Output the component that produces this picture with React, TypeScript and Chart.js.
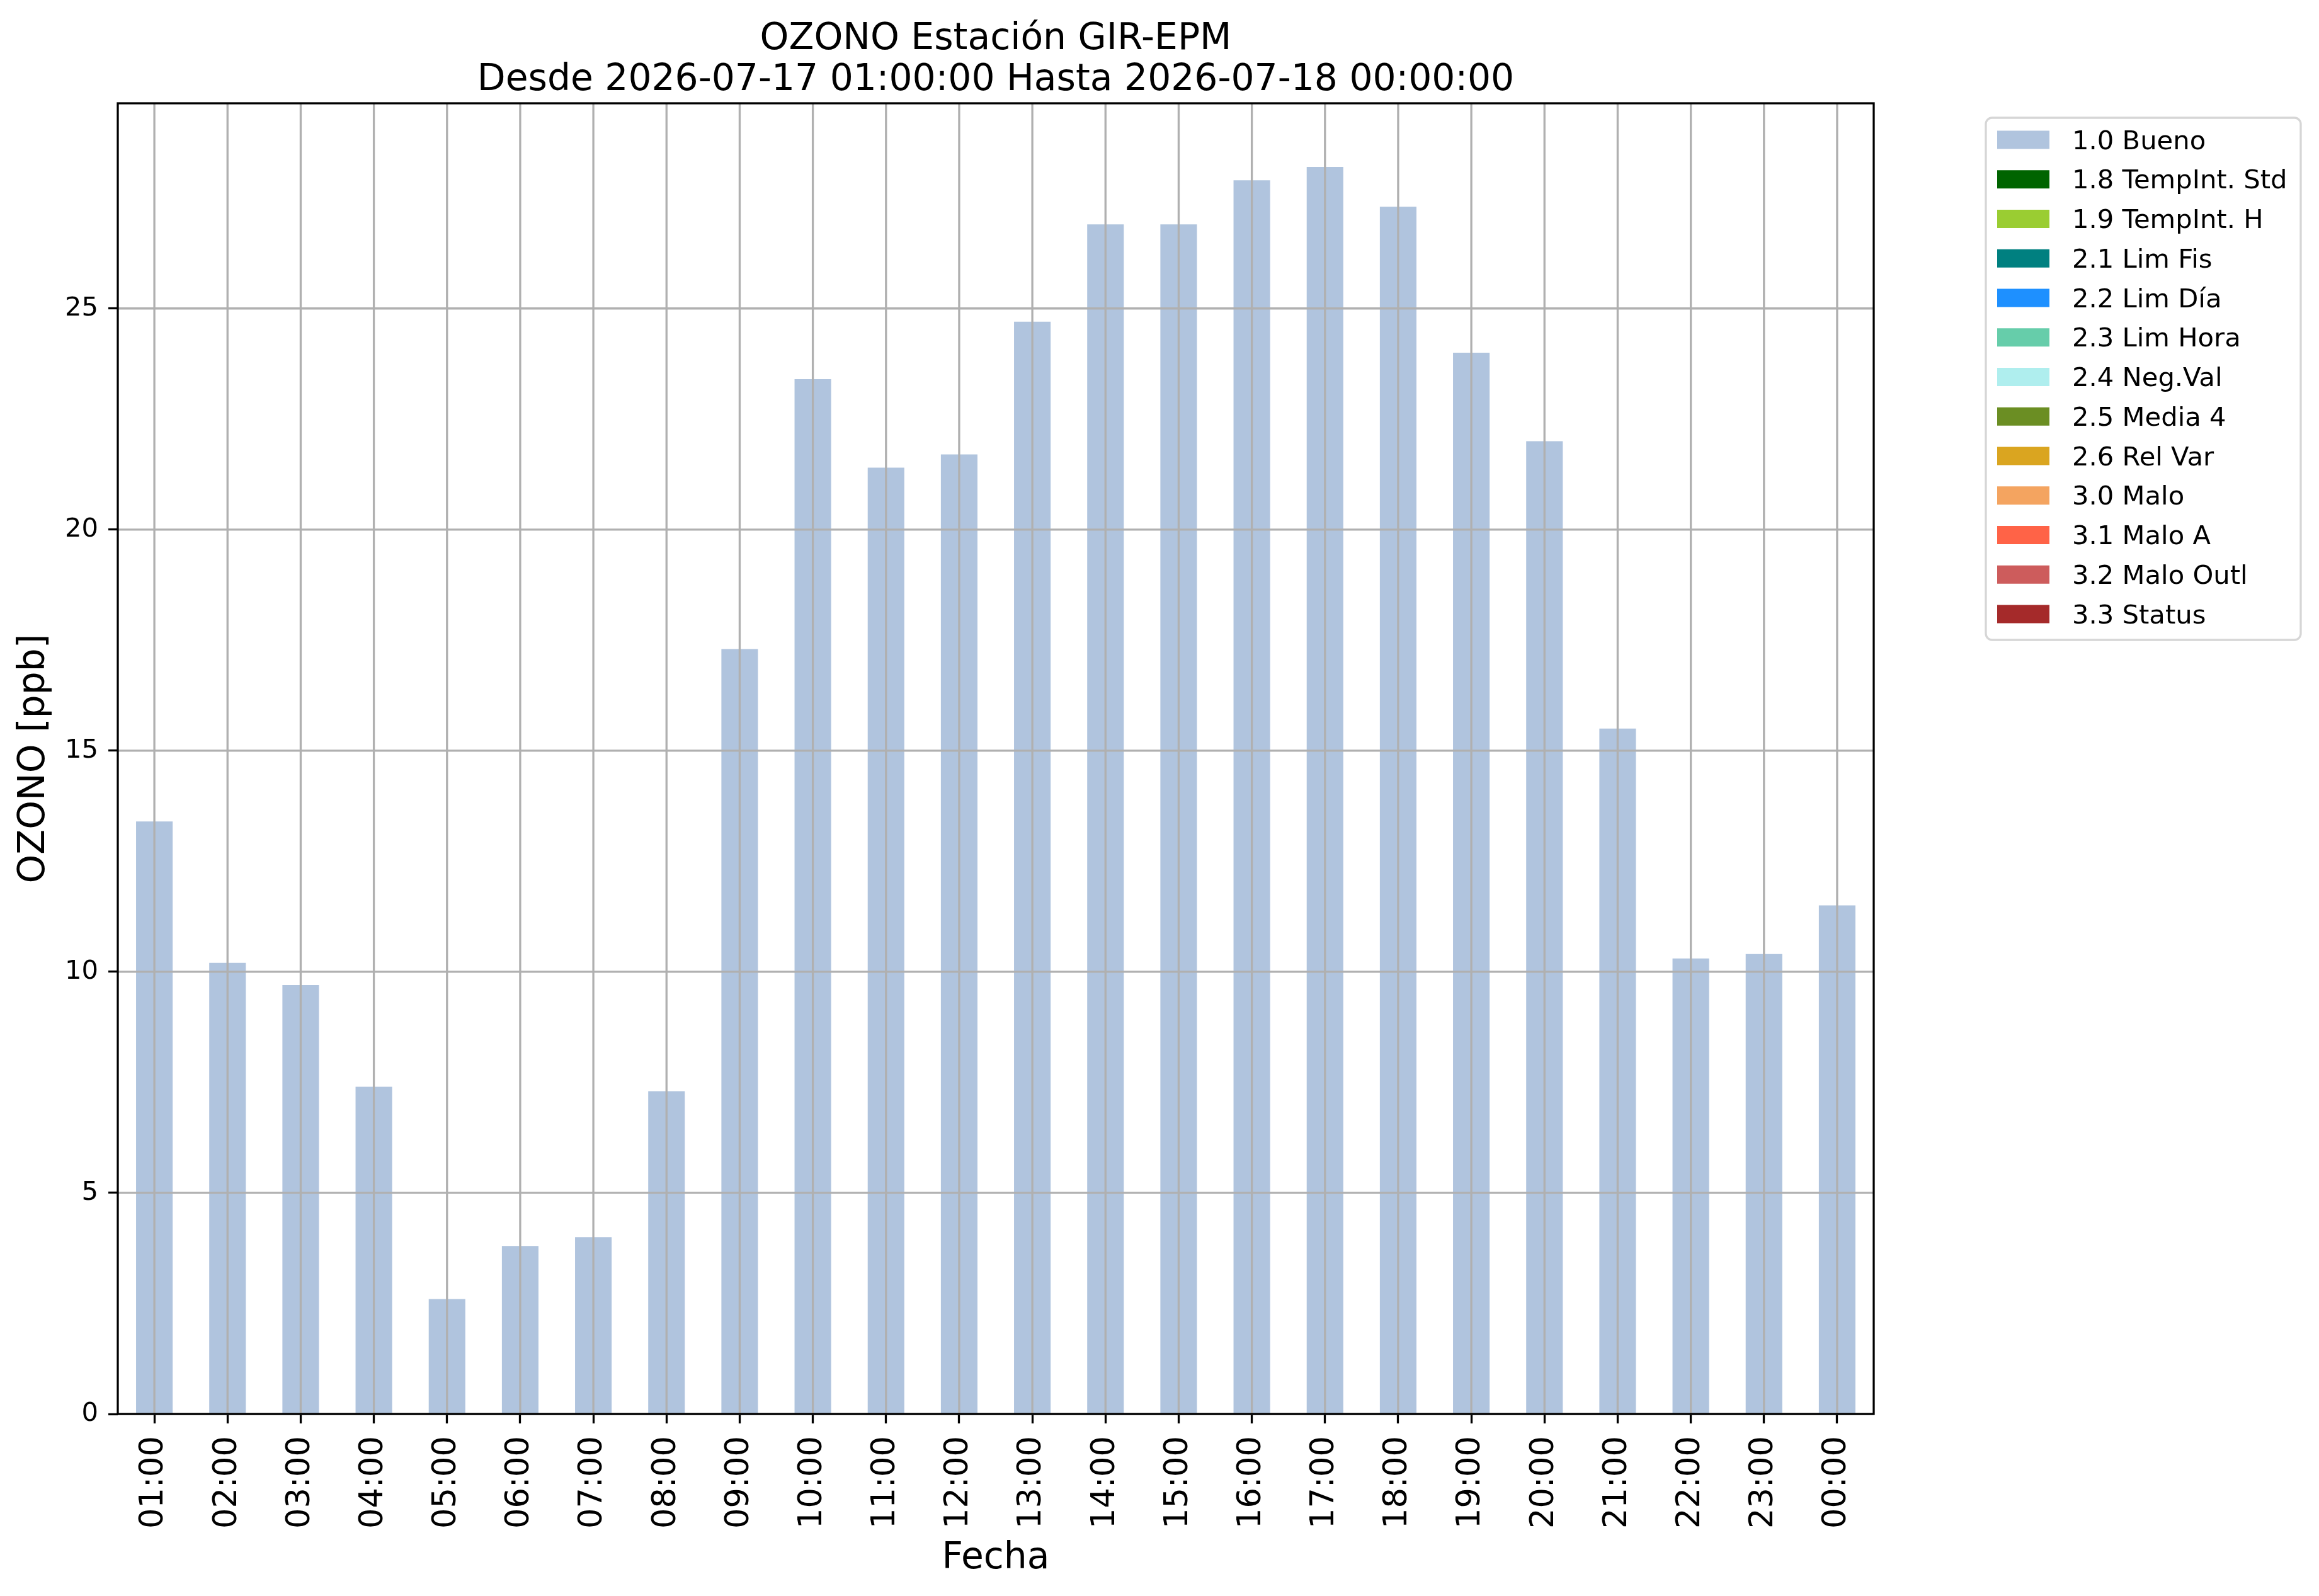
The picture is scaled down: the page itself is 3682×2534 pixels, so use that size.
import React, { useRef, useEffect } from "react";
import { Chart, registerables } from "chart.js";

Chart.register(...registerables);

const horas = [
  "01:00", "02:00", "03:00", "04:00", "05:00", "06:00", "07:00", "08:00",
  "09:00", "10:00", "11:00", "12:00", "13:00", "14:00", "15:00", "16:00",
  "17:00", "18:00", "19:00", "20:00", "21:00", "22:00", "23:00", "00:00",
];
const ozono = [
  13.4, 10.2, 9.7, 7.4, 2.6, 3.8, 4.0, 7.3, 17.3, 23.4, 21.4, 21.7,
  24.7, 26.9, 26.9, 27.9, 28.2, 27.3, 24.0, 22.0, 15.5, 10.3, 10.4, 11.5,
];
const etiquetas = [
  "1.0 Bueno", "1.8 TempInt. Std", "1.9 TempInt. H", "2.1 Lim Fis",
  "2.2 Lim Día", "2.3 Lim Hora", "2.4 Neg.Val", "2.5 Media 4",
  "2.6 Rel Var", "3.0 Malo", "3.1 Malo A", "3.2 Malo Outl", "3.3 Status",
];
const colores = [
  "lightsteelblue", "darkgreen", "yellowgreen", "teal", "dodgerblue",
  "mediumaquamarine", "paleturquoise", "olivedrab", "goldenrod",
  "sandybrown", "tomato", "indianred", "brown",
];
const yMax = 29.64;

const FONT = "DejaVu Sans";
const LW = 3.3;

// grid lines over the bars + the four spines, like matplotlib does
const gridArriba = {
  id: "gridArriba",
  afterDatasetsDraw(chart: any) {
    const { ctx, chartArea: a, scales } = chart;
    ctx.save();
    ctx.strokeStyle = "#b0b0b0";
    ctx.lineWidth = LW;
    ctx.beginPath();
    scales.x.ticks.forEach((_t: any, i: number) => {
      const x = scales.x.getPixelForTick(i);
      ctx.moveTo(x, a.top);
      ctx.lineTo(x, a.bottom);
    });
    scales.y.ticks.forEach((t: any) => {
      const y = scales.y.getPixelForValue(t.value);
      ctx.moveTo(a.left, y);
      ctx.lineTo(a.right, y);
    });
    ctx.stroke();
    ctx.strokeStyle = "#000";
    ctx.strokeRect(a.left, a.top, a.right - a.left, a.bottom - a.top);
    ctx.restore();
  },
};

const leyenda = {
  id: "leyenda",
  afterDraw(chart: any) {
    const { ctx, chartArea: a } = chart;
    const x0 = a.right + 178;
    const y0 = a.top + 23;
    const paso = 62.75;
    const n = chart.data.datasets.length;
    ctx.save();
    ctx.beginPath();
    ctx.roundRect(x0, y0, 500, 35 + (n - 1) * paso + 41, 10);
    ctx.fillStyle = "rgba(255,255,255,0.8)";
    ctx.fill();
    ctx.strokeStyle = "#d6d6d6";
    ctx.lineWidth = LW;
    ctx.stroke();
    ctx.font = `41.7px "${FONT}"`;
    ctx.textBaseline = "alphabetic";
    ctx.textAlign = "left";
    chart.data.datasets.forEach((ds: any, i: number) => {
      const cy = y0 + 35 + i * paso;
      ctx.fillStyle = ds.backgroundColor;
      ctx.fillRect(x0 + 18, cy - 14.5, 83, 29);
      ctx.fillStyle = "#000";
      ctx.fillText(ds.label, x0 + 137, cy + 14.5);
    });
    ctx.restore();
  },
};

const Grafica = () => {
  const canvasRef = useRef<HTMLCanvasElement>(null);

  useEffect(() => {
    if (!canvasRef.current) return;
    Chart.defaults.font.family = FONT;
    Chart.defaults.color = "#000";

    const chart = new Chart(canvasRef.current, {
      type: "bar",
      data: {
        labels: horas,
        datasets: etiquetas.map((label, i) => ({
          label,
          data: i === 0 ? ozono : [],
          backgroundColor: colores[i],
          grouped: false,
          barPercentage: 0.5,
          categoryPercentage: 1,
        })),
      },
      options: {
        animation: false,
        responsive: false,
        devicePixelRatio: 1,
        layout: { padding: { left: 0, right: 707, top: 0, bottom: 0 } },
        plugins: {
          legend: { display: false },
          tooltip: { enabled: false },
          title: {
            display: true,
            fullSize: false,
            text: [
              "OZONO Estación GIR-EPM",
              "Desde 2026-07-17 01:00:00 Hasta 2026-07-18 00:00:00",
            ],
            color: "#000",
            font: { size: 58.3, weight: "normal", lineHeight: "65px" },
            padding: { top: 30.6, bottom: 3.4 },
          },
        },
        scales: {
          x: {
            grid: {
              offset: false,
              drawOnChartArea: false,
              tickColor: "#000",
              tickLength: 15,
              tickWidth: LW,
            },
            border: { display: false },
            ticks: {
              autoSkip: false,
              minRotation: 90,
              maxRotation: 90,
              padding: 20,
              font: { size: 51 },
              color: "#000",
            },
            title: {
              display: true,
              text: "Fecha",
              font: { size: 58.3 },
              color: "#000",
              padding: { top: 0, bottom: 24 },
            },
            afterFit: (s: any) => {
              s.height = 289;
            },
          },
          y: {
            min: 0,
            max: yMax,
            grid: {
              drawOnChartArea: false,
              tickColor: "#000",
              tickLength: 15,
              tickWidth: LW,
            },
            border: { display: false },
            ticks: {
              stepSize: 5,
              includeBounds: false,
              padding: 16,
              font: { size: 41.7 },
              color: "#000",
            },
            title: {
              display: true,
              text: "OZONO [ppb]",
              font: { size: 58.3 },
              color: "#000",
              padding: { top: 20, bottom: 0 },
            },
            afterFit: (s: any) => {
              s.width = 187;
            },
          },
        },
      },
      plugins: [gridArriba, leyenda],
    } as any);

    return () => {
      chart.destroy();
    };
  }, []);

  return (
    <canvas
      ref={canvasRef}
      width={3682}
      height={2534}
      style={{ display: "block", width: 3682, height: 2534 }}
    />
  );
};

export default function App() {
  return (
    <div style={{ position: "fixed", left: 0, top: 0, background: "#fff" }}>
      <Grafica />
    </div>
  );
}
